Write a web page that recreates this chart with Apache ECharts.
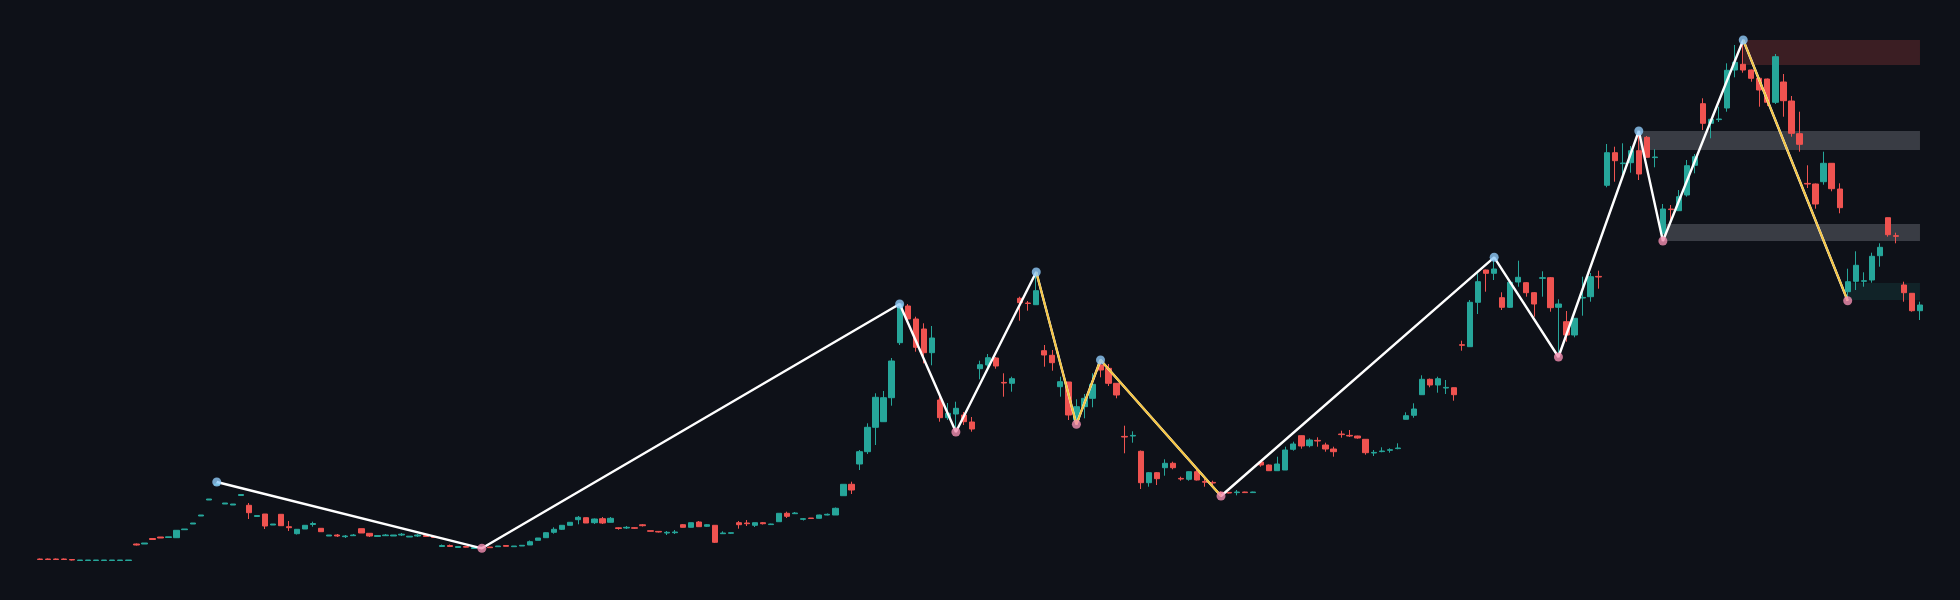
<!DOCTYPE html>
<html>
<head>
<meta charset="utf-8">
<script src="https://cdn.jsdelivr.net/npm/echarts@6/dist/echarts.min.js"></script>
<style>html,body{margin:0;padding:0;background:#0e1118;}#main{width:1960px;height:600px;}</style>
</head>
<body>
<div id="main"></div>
<script>
// candles: [open, close, low, high]
var candles = [
 [41,40.5,40,41.5],[41,40.5,40,41.5],[41,40.5,40,41.5],[41,40.5,40,41.5],[40.5,40,39.5,41],
 [39.5,40,39.5,40],[39.5,40,39.5,40],[39.5,40,39.5,40],[39.5,40,39.5,40],[39.5,40,39.5,40],[39.5,40,39.5,40],[39.5,40,39.5,40],
 [56,55,54.5,56.5],[56,57,56,57],[61.5,60.5,60,62],[63,62,62,63],[62.5,63.2,62.5,63.2],[62.3,69.7,62,70],[70.3,71,70.3,71],
 [76,77,76,77],[84,85,84,85],[100,101,100,101],[115,116,115,118],[96,97,96,97],[95,96,95,96],[104.5,105.5,104.5,105.5],
 [94.7,87.3,81,97],[83.5,84.5,83.5,84.5],[86,74,71,86],[75,76,75,76],[85.7,74.3,74,86],[73.3,72.3,69,79],
 [66.3,70.7,65.5,71],[71,74.7,71,75],[75.5,76.5,73.3,78.3],[71.7,68.3,68,72],[64,65,64,65],[65,64,63,66],
 [63.3,64,62,65],[64.3,65,64,66],[71.3,67,67,71.3],[66.7,64,63,67],[63.5,64.5,63,65],[64.3,65,64,66],
 [64,65,64,65],[65,65.8,64,67],[63,63.8,63,63.8],[64,65,63,66],[64.5,63.5,63.5,64.5],[63.5,62.5,62,63.5],
 [53.5,54.5,53,55.5],[54.5,53.5,53,55.5],[52.5,53.5,52.5,53.5],[53.5,52.8,52.5,53.5],[51.5,52.5,51.5,52.5],
 [52,53,51.7,53],[53,52.3,52.3,53],[53.3,54,53.3,54],[54.5,53.7,53.7,54.5],[53.3,54,53.3,54],[54,54.7,54,54.7],
 [55,58.3,55,59.5],[59.7,62,59.7,62],[62.3,67.3,62,67.7],[67.7,70.7,66.3,72.7],[70.7,74.7,70,75],[74.7,77.7,74.5,78],
 [80.3,82.7,75.7,84],[82.3,77,77,82.7],[77.3,81,76,81.5],[81.3,77,76,83],[77.7,81.7,77.5,83],
 [72.2,71.5,70.3,72.7],[72,72.7,71,74],[72.3,71.7,71,72.7],[75.2,74.3,73.5,76],[69.3,68.7,68.5,69.3],[68.6,68,67.5,69],
 [67,67.7,65,69],[67.3,68,66,70],[75.3,72.7,72.5,76],[72.7,77.3,72.5,77.3],[78,73.3,73,79],[73.7,75.3,73,76],
 [74.7,57.7,57,75],[66.3,67,66,68.7],[66.7,67.3,66,67.3],[77.3,75.3,71.3,79],[77,76.3,74,80],[74.7,77.3,73,77.3],
 [77.3,76.3,75.5,78],[75.4,76,75,76.3],[78.3,86.7,78.3,86.7],[86.7,83.7,82,88.3],[86.3,87,86.3,88],[80.7,81.3,79.5,82],
 [82,81.5,81.5,82],[81.7,85,81.5,85.3],[85,85.7,84.7,86.5],[85,91.7,85,92.5],
 [104.3,115.7,104.3,115.7],[115.7,110,106,118.3],[136,148.3,130,150],[148.3,172.7,146,176.7],[172.7,202.7,155,206.7],
 [178.3,202.3,178,209],[202.3,239,194.3,242],[257.3,296,255,296],[294,281,280,296],[281,252.7,248.3,283.3],
 [271,247.3,236.7,276.7],[247.3,262,234.7,274],[200,182.3,178.3,205],[182.3,186.7,180,197],[186,191.7,168,198.3],
 [185,178.3,175,188],[178,171,168.3,183],[231.3,235.3,220.7,239.3],[235,242.3,232.7,246],[242,234,231.3,243],
 [217.6,217,203.3,226.7],[216.7,221.3,208.3,223.3],[301.7,297.3,279.3,303.3],[297,296.5,289.3,299],[295.3,309.3,295,328],
 [249.3,245,233.3,255],[244.7,237.3,229.3,250],[213.3,218.3,203.3,223.3],[218,185,180,218],[180,193.3,175.7,200.7],
 [193.3,201.7,181.7,206],[201.7,215.7,192.7,226.7],[235,230,222.7,240],[231.7,216.7,214,236],[216.7,205,201.7,217],
 [163.6,163,146.7,174.3],[164,164.6,157.3,168.7],[148.7,117.3,111,149.5],[117.3,127.3,113.3,128],[127.3,121.3,115,128],
 [132.3,136.7,124.3,140.7],[136.7,132.3,130.7,138.3],[121.6,121,119.3,123.3],[120.7,128.3,119.3,128.7],[128.3,120,119.5,130],
 [118.4,117.8,113.3,121.7],[117.6,117,115,119.3],[107.6,107,104,108.5],[107.6,107,106.5,108],[107.4,108,104.7,110],
 [108,107.4,107,108.3],[107.4,108,107,108.3],
 [138,135,133.3,138.3],[135,129.3,129,135.5],[129.3,136,129,143.3],[130,150,130,153.3],[150.7,156,149.3,158.3],
 [164.3,154,151.3,164.5],[154.3,160,152.7,161.7],[159.6,159,153.3,162.7],[155,151,148.3,157.3],[151,148.3,143.3,153.3],
 [166,165.4,162.3,169.3],[164.6,164,163,170],[164,162,161.3,164.3],[160.7,147.3,145.3,161],[147,147.6,144,150],
 [148.4,149,147.7,152.7],[149.7,150.3,147.3,151.7],[151.4,152,150.7,156.7],[180.7,184.3,180.5,187.7],[184.7,191,182.3,196.7],
 [205.3,220.7,205,224.7],[220.7,215,212.7,221.5],[215,221.3,207.3,223.3],[212,212.6,206,220],[212.3,205.3,199.3,212.5],
 [255.3,254.7,249.3,259.3],[253.3,297.7,253,300],[297.7,318.3,286,326.7],[330,326.7,308.3,330.5],[326.7,331,320,342.7],
 [302.3,292.7,290,307.7],[292.7,317.7,292,318],[318,322.7,313.3,339.3],[317.3,307.3,303.3,318],[307.3,296,283.3,308],
 [321.7,322.3,303.3,328.7],[322.3,292.3,288.3,323],[292.7,296,243,300.7],[278.3,265,258.3,289],[265,281.7,262.7,282],
 [302,302.6,284.3,323.3],[303.3,323.3,298.3,327],[323.6,323,311.3,329.3],
 [414.7,447.3,412.7,456],[447.3,439.3,418.3,453.3],[436.4,437,423.3,456.7],[437.3,449.3,427.3,454],[449.3,426,420,469],
 [462.7,442.7,442.5,464],[442.4,443,432.7,450.7],[366.7,391,359,396],[391,390.4,380,395],[389.3,403.3,389,410],
 [405,434.3,403.3,440],[434.7,443.3,426.7,446],[496.3,476.7,470,501.7],[476.7,480.7,461.7,481],[480.4,481,478,493.3],
 [492,529.7,488.3,536.7],[530,537.7,522.7,555],[535.7,530,527.3,560],[530,521.7,518.3,530.5],[521.7,510,493.3,522],
 [521,497.7,494,521.5],[497.7,543.3,496,546],[518,499.3,483.3,526],[499,466.7,463.3,504],[466.3,455.7,448.3,488.3],
 [416.6,416,412,434.7],[416,396,391.3,416.5],[418.3,436.7,415.3,448.3],[436.7,411.3,408.7,437],[411,392.3,386.7,416.7],
 [308.3,318.3,299.3,331.3],[318.7,334.7,310,348.7],[318.7,319.3,313.3,327.7],[320,343.7,317.3,347.3],[344.3,352.7,333.3,356.7],
 [382.3,365.3,363.3,382.5],[364.3,363.7,356.7,367.3],[315,307.3,298.3,318.3],[306.7,289.3,288.3,307],[289.3,295,280,298.3]
];
var categories = candles.map(function (c, i) { return i; });

// zigzag pivots
var pivotIdx   = [22, 55, 107, 114, 124, 129, 132, 147, 181, 189, 199, 202, 212, 225];
var pivotPrice = [118, 51.7, 296, 168, 328, 175.7, 240, 104, 342.7, 243, 469, 359, 560, 299.3];
var pivotHigh  = [1, 0, 1, 0, 1, 0, 1, 0, 1, 0, 1, 0, 1, 0];
var yellowLegs = [[124, 129, 132, 147], [212, 225]];

// zones: [start index, low, high, kind]
var zones = [[212, 535, 560, 'supply'], [199, 450, 469, 'level'], [202, 359, 376, 'level'], [225, 300, 317, 'demand']];
var zoneColor = { supply: 'rgba(239,83,80,0.2)', level: 'rgba(110,112,122,0.45)', demand: 'rgba(38,166,154,0.13)' };

var pivotPts = pivotIdx.map(function (x, i) { return [x, pivotPrice[i]]; });
function pt(x) { return [x, pivotPrice[pivotIdx.indexOf(x)]]; }

var series = [{
  type: 'candlestick',
  data: candles,
  barWidth: '72%',
  itemStyle: { color: '#26a69a', color0: '#ef5350', borderColor: '#26a69a', borderColor0: '#ef5350', borderWidth: 1 },
  markArea: {
    silent: true,
    data: zones.map(function (z) {
      return [{ xAxis: z[0], yAxis: z[1], itemStyle: { color: zoneColor[z[3]] } }, { xAxis: candles.length - 1, yAxis: z[2] }];
    })
  }
}, {
  type: 'line', data: pivotPts, symbol: 'none', silent: true,
  lineStyle: { color: '#ffffff', width: 2.4 }, z: 5
}];
yellowLegs.forEach(function (leg) {
  series.push({ type: 'line', data: leg.map(pt), symbol: 'none', silent: true,
    lineStyle: { color: '#f5c542', width: 2 }, z: 6 });
});
series.push({
  type: 'scatter', symbolSize: 9, z: 10,
  data: pivotPts.map(function (p, i) {
    return { value: p, itemStyle: { color: pivotHigh[i] ? '#90caf9' : '#f48fb1' } };
  })
});

var chart = echarts.init(document.getElementById('main'));
chart.setOption({
  animation: false,
  backgroundColor: '#0e1118',
  grid: { left: 36, right: 36, top: 0, bottom: 0 },
  xAxis: { type: 'category', data: categories, show: false, boundaryGap: true },
  yAxis: { type: 'value', min: 0, max: 600, show: false, splitLine: { show: false } },
  series: series
});
</script>
</body>
</html>
